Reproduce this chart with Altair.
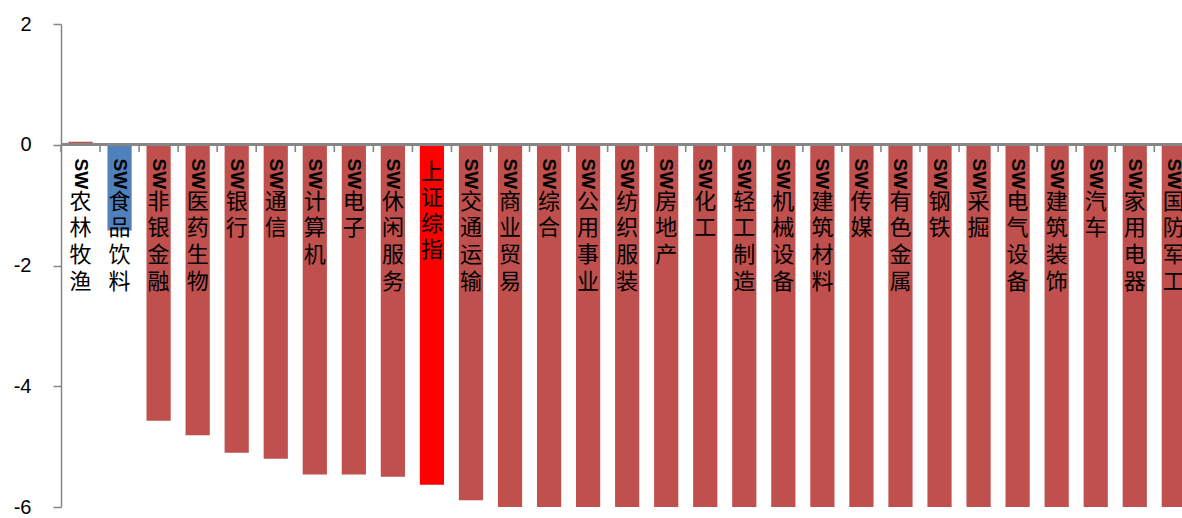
import altair as alt
import pandas as pd

names = ["农林牧渔", "食品饮料", "非银金融", "医药生物", "银行", "通信", "计算机", "电子",
         "休闲服务", "上证综指", "交通运输", "商业贸易", "综合", "公用事业", "纺织服装",
         "房地产", "化工", "轻工制造", "机械设备", "建筑材料", "传媒", "有色金属", "钢铁",
         "采掘", "电气设备", "建筑装饰", "汽车", "家用电器", "国防军工"]
prefixes = ["SW"] * 9 + [""] + ["SW"] * 19
values = [0.05, -1.42, -4.57, -4.81, -5.10, -5.20, -5.46, -5.46, -5.50, -5.63, -5.89,
          -6.05, -6.10, -6.15, -6.20, -6.25, -6.30, -6.40, -6.45, -6.50, -6.60, -6.70,
          -6.80, -6.90, -7.00, -7.10, -7.30, -7.50, -7.80]
kinds = ["sw", "food", "sw", "sw", "sw", "sw", "sw", "sw", "sw", "index"] + ["sw"] * 19
tick_positions = list(range(29))

df = pd.DataFrame({
    "i": list(range(len(names))),
    "name": names,
    "prefix": prefixes,
    "chars": ["\n".join(n) for n in names],
    "value": values,
    "kind": kinds,
})
ticks_df = pd.DataFrame({"t": tick_positions})

AX = "#868686"
x_scale = alt.Scale(domain=[0, 28.71], nice=False, zero=False)
y_scale = alt.Scale(domain=[-6, 2], nice=False)

base = alt.Chart(df).transform_calculate(
    x0="datum.i + 0.19", x1="datum.i + 0.81", xc="datum.i + 0.5"
)

bars = base.mark_bar(clip=True).encode(
    x=alt.X("x0:Q", scale=x_scale, axis=None),
    x2="x1:Q",
    y=alt.Y("value:Q", scale=y_scale,
            axis=alt.Axis(values=[2, 0, -2, -4, -6], title=None, grid=False,
                          labelExpr="'' + datum.value",
                          tickSize=8, labelPadding=22, domainColor=AX, tickColor=AX,
                          domainWidth=1.5, tickWidth=1.5, labelFontSize=20,
                          labelFont="Liberation Sans", labelColor="#000000")),
    y2=alt.datum(0),
    color=alt.Color("kind:N", legend=None,
                    scale=alt.Scale(domain=["sw", "food", "index"],
                                    range=["#C0504D", "#4F81BD", "#FF0000"])),
)

zero_line = alt.Chart(ticks_df).mark_rule(color=AX, strokeWidth=2).encode(
    y=alt.Y(datum=0, scale=y_scale)
)

x_ticks = alt.Chart(ticks_df).mark_rule(color=AX, strokeWidth=1.6).encode(
    x=alt.X("t:Q", scale=x_scale, axis=None),
    y=alt.Y(datum=0, scale=y_scale),
    y2=alt.datum(-0.12),
)

sw_text = base.transform_filter("datum.prefix != ''").mark_text(
    angle=90, align="center", baseline="middle", dx=29, fontSize=19,
    fontWeight="bold", font="Liberation Sans Narrow, Liberation Sans", color="#000000"
).encode(x=alt.X("xc:Q", scale=x_scale, axis=None),
         y=alt.Y(datum=0, scale=y_scale), text="prefix:N")

chars_sw = base.transform_filter("datum.prefix != ''").mark_text(
    align="center", baseline="top", dy=47, fontSize=22, lineHeight=26.7,
    lineBreak="\n", font="Noto Sans CJK SC", color="#000000"
).encode(x=alt.X("xc:Q", scale=x_scale, axis=None),
         y=alt.Y(datum=0, scale=y_scale), text="chars:N")

chars_idx = base.transform_filter("datum.prefix == ''").mark_text(
    align="center", baseline="top", dy=17, fontSize=22, lineHeight=26,
    lineBreak="\n", font="Noto Sans CJK SC", color="#000000"
).encode(x=alt.X("xc:Q", scale=x_scale, axis=None),
         y=alt.Y(datum=0, scale=y_scale), text="chars:N")

chart = alt.layer(bars, zero_line, x_ticks, sw_text, chars_sw, chars_idx).properties(
    width=1121, height=483,
    autosize=alt.AutoSizeParams(type="none"),
    padding={"left": 61, "top": 24, "right": 0, "bottom": 11},
    background="white",
).configure_view(stroke=None)

chart.save("out.html", embed_options={"renderer": "svg", "actions": False})
